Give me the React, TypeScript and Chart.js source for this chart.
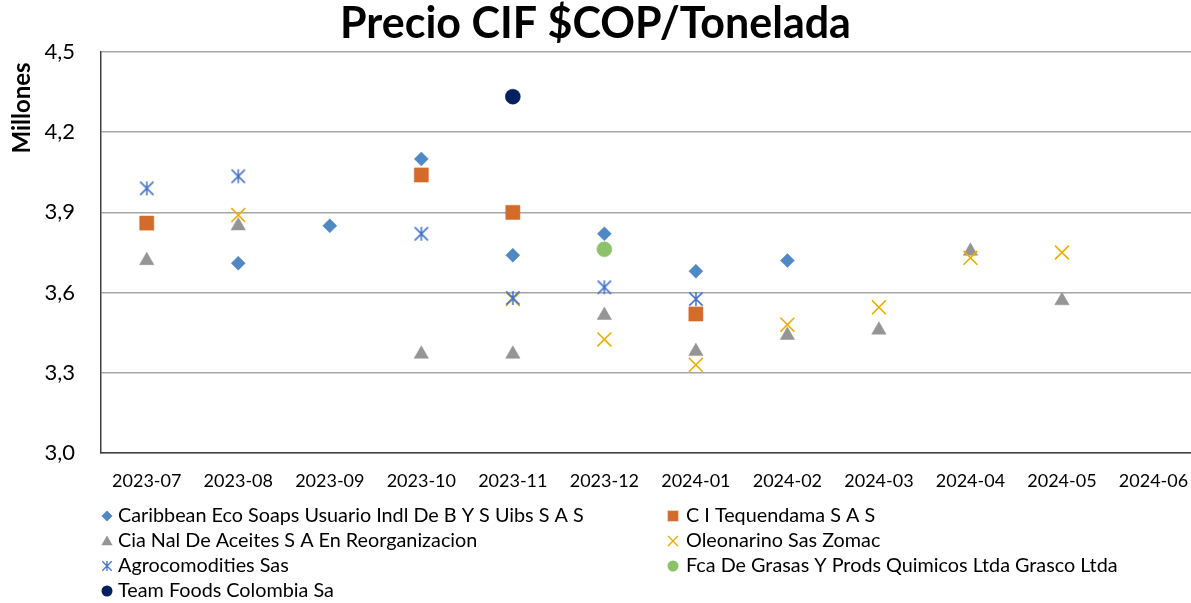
import React, { useEffect, useRef } from 'react';
import { Chart, registerables } from 'chart.js';
import { drawPoint } from 'chart.js/helpers';

Chart.register(...registerables);

const categories = ['2023-07', '2023-08', '2023-09', '2023-10', '2023-11', '2023-12', '2024-01', '2024-02', '2024-03', '2024-04', '2024-05', '2024-06'];

const caribbean = [null, 3.71, 3.85, 4.10, 3.74, 3.82, 3.68, 3.72, null, null, null, null];
const tequendama = [3.86, null, null, 4.04, 3.90, null, 3.52, null, null, null, null, null];
const ciaNal = [3.72, 3.85, null, 3.37, 3.37, 3.515, 3.38, 3.44, 3.46, 3.755, 3.57, null];
const oleonarino = [null, 3.89, null, null, 3.576, 3.425, 3.33, 3.48, 3.545, 3.73, 3.75, null];
const agrocomodities = [3.99, 4.035, null, 3.82, 3.58, 3.62, 3.576, null, null, null, null, null];
const grasco = [null, null, null, null, null, 3.762, null, null, null, null, null, null];
const teamFoods = [null, null, null, null, 4.333, null, null, null, null, null, null, null];

const yTicks = [3.0, 3.3, 3.6, 3.9, 4.2, 4.5];

const seriesNames = [
  'Caribbean Eco Soaps Usuario Indl De B Y S Uibs S A S',
  'C I Tequendama S A S',
  'Cia Nal De Aceites S A En Reorganizacion',
  'Oleonarino Sas Zomac',
  'Agrocomodities Sas',
  'Fca De Grasas Y Prods Quimicos Ltda Grasco Ltda',
  'Team Foods Colombia Sa',
];
const seriesValues = [caribbean, tequendama, ciaNal, oleonarino, agrocomodities, grasco, teamFoods];
const seriesColors = ['#4F88C2', '#D36B2A', '#959595', '#E8B000', '#4472C4', '#8CC26A', '#002060'];

const FONT = 'Lato, "Open Sans", sans-serif';

function makeAsterisk(size: number, color: string, lw: number) {
  const c = document.createElement('canvas');
  c.width = size;
  c.height = size;
  const ctx = c.getContext('2d')!;
  ctx.strokeStyle = color;
  ctx.lineWidth = lw;
  const m = size / 2;
  const r = size / 2 - 1;
  const d = r * 0.95;
  ctx.beginPath();
  ctx.moveTo(m, m - r);
  ctx.lineTo(m, m + r);
  ctx.moveTo(m - d, m - d);
  ctx.lineTo(m + d, m + d);
  ctx.moveTo(m - d, m + d);
  ctx.lineTo(m + d, m - d);
  ctx.stroke();
  return c;
}

export default function App() {
  const ref = useRef<HTMLCanvasElement | null>(null);

  useEffect(() => {
    if (!ref.current) return;
    const asterisk = makeAsterisk(16, seriesColors[4], 1.5);
    const asteriskSmall = makeAsterisk(12, seriesColors[4], 1.3);

    const styles: any[] = ['rectRot', 'rect', 'triangle', 'crossRot', asterisk, 'circle', 'circle'];
    const radii = [7, 10, 8.3, 9.8, 8, 7.5, 7.5];
    const legendStyles: any[] = ['rectRot', 'rect', 'triangle', 'crossRot', asteriskSmall, 'circle', 'circle'];
    const legendRadii = [5.5, 7.5, 6.5, 7, 6, 5.5, 5.5];

    const datasets = seriesNames.map((name, i) => {
      const isLine = i === 3;
      return {
        label: name,
        data: seriesValues[i].map((v, k) => ({ x: k, y: v })),
        showLine: false,
        pointStyle: styles[i],
        pointRadius: radii[i],
        pointHoverRadius: radii[i],
        pointBackgroundColor: seriesColors[i],
        pointBorderColor: seriesColors[i],
        pointBorderWidth: isLine ? 1.6 : 0.5,
        order: seriesNames.length - i,
      };
    });

    const legendPlugin = {
      id: 'customLegend',
      afterDraw(chart: any) {
        const ctx = chart.ctx as CanvasRenderingContext2D;
        ctx.save();
        // y axis title
        ctx.save();
        ctx.translate(22, 108);
        ctx.rotate(-Math.PI / 2);
        ctx.font = `bold 24px ${FONT}`;
        ctx.fillStyle = '#000';
        ctx.textAlign = 'center';
        ctx.textBaseline = 'middle';
        ctx.fillText('Millones', 0, 0);
        ctx.restore();

        const colX = [107, 673];
        const textX = [118, 686];
        const rowY = [516, 541, 566, 591];
        ctx.font = `19.8px ${FONT}`;
        ctx.textBaseline = 'middle';
        ctx.textAlign = 'left';
        seriesNames.forEach((name, i) => {
          const col = i % 2;
          const row = Math.floor(i / 2);
          const x = colX[col];
          const y = rowY[row];
          ctx.fillStyle = seriesColors[i];
          ctx.strokeStyle = seriesColors[i];
          ctx.lineWidth = 1.4;
          drawPoint(ctx, {
            pointStyle: legendStyles[i],
            radius: legendRadii[i],
            rotation: 0,
            borderWidth: i === 3 ? 1.4 : 0,
          } as any, x, y + (i === 2 ? 1 : 0));
          ctx.fillStyle = '#000';
          ctx.fillText(name, textX[col], y);
        });
        ctx.restore();
      },
    };

    const chart = new Chart(ref.current, {
      type: 'scatter',
      data: { datasets: datasets as any },
      options: {
        responsive: false,
        animation: false,
        devicePixelRatio: 1,
        layout: { autoPadding: false, padding: { left: 0, right: 0, top: 0, bottom: 103 } },
        plugins: {
          legend: { display: false },
          tooltip: { enabled: false },
          title: {
            display: true,
            text: 'Precio CIF $COP/Tonelada',
            color: '#000',
            font: { family: FONT, size: 43, weight: 'bold', lineHeight: 1.1 },
            padding: { top: 0, bottom: 4.7 },
          },
        },
        scales: {
          x: {
            type: 'linear',
            min: -0.5,
            max: 11.41,
            afterBuildTicks: (scale: any) => {
              scale.ticks = categories.map((_, i) => ({ value: i }));
            },
            afterFit: (scale: any) => {
              scale.height = 47;
              scale.paddingLeft = 0;
              scale.paddingRight = 0;
            },
            ticks: {
              autoSkip: false,
              maxRotation: 0,
              padding: 1,
              color: '#000',
              font: { family: FONT, size: 18, lineHeight: 3 },
              callback: (v: any) => categories[v] ?? '',
            },
            grid: { display: false, drawTicks: false },
            border: { display: true, color: '#404040', width: 1.5 },
          },
          y: {
            min: 3,
            max: 4.5,
            afterBuildTicks: (scale: any) => {
              scale.ticks = yTicks.map((v) => ({ value: v }));
            },
            afterFit: (scale: any) => {
              scale.width = 101;
            },
            ticks: {
              padding: 26,
              color: '#000',
              font: { family: FONT, size: 22 },
              callback: (v: any) => Number(v).toFixed(1).replace('.', ','),
            },
            grid: { color: '#A6A6A6', lineWidth: 1.5, drawTicks: false },
            border: { display: true, color: '#404040', width: 1.5 },
          },
        },
      },
      plugins: [legendPlugin],
    });
    return () => chart.destroy();
  }, []);

  return (
    <div style={{ position: 'absolute', left: 0, top: 0, width: 1191, height: 603, background: '#fff' }}>
      <canvas ref={ref} width={1191} height={603} />
    </div>
  );
}
